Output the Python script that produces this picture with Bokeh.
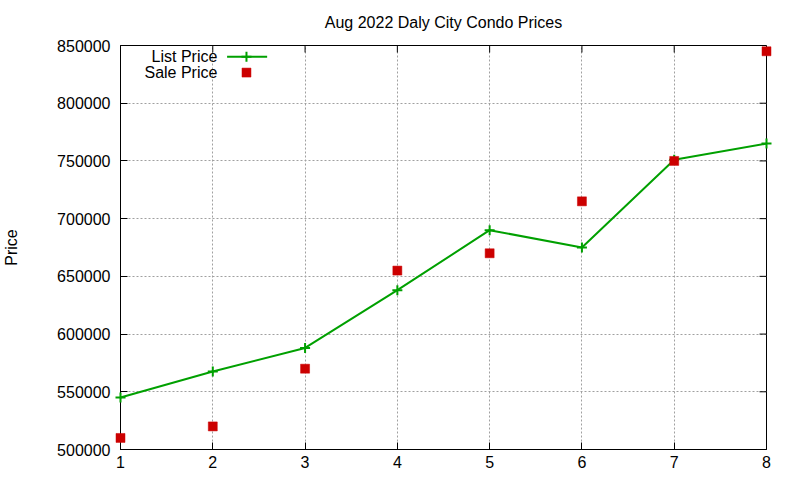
import math
from bokeh.plotting import figure
from bokeh.models import Range1d, FixedTicker, Label, BasicTickFormatter
from bokeh.embed import file_html
from bokeh.resources import INLINE

# Data
months = [1, 2, 3, 4, 5, 6, 7, 8]
list_price = [545000, 567500, 588000, 638000, 690000, 675000, 751000, 765000]
sale_price = [510000, 520000, 570000, 655000, 670000, 715000, 750000, 845000]
x_ticks = [1, 2, 3, 4, 5, 6, 7, 8]
y_ticks = [500000, 550000, 600000, 650000, 700000, 750000, 800000, 850000]
title_text = "Aug 2022 Daly City Condo Prices"
y_label = "Price"
series_names = ["List Price", "Sale Price"]

FONT = "Liberation Sans"
GREEN = "#00a000"
RED = "#cc0000"

p = figure(width=800, height=480, output_backend="svg", toolbar_location=None,
           x_range=Range1d(x_ticks[0], x_ticks[-1]),
           y_range=Range1d(y_ticks[0], y_ticks[-1]),
           min_border_left=117, min_border_right=34, min_border_top=45,
           min_border_bottom=31)

p.title.text = title_text
p.title.text_font = FONT
p.title.text_font_size = "16px"
p.title.text_font_style = "normal"
p.title.text_color = "black"
p.title.align = "center"
p.title.vertical_align = "top"
p.title.standoff = 26

p.outline_line_color = "black"
p.outline_line_width = 1
p.background_fill_color = "white"
p.border_fill_color = "white"

for ax in (p.xaxis[0], p.yaxis[0]):
    ax.major_label_text_font = FONT
    ax.major_label_text_font_size = "16px"
    ax.major_label_text_color = "black"
    ax.major_tick_in = 7
    ax.major_tick_out = 0
    ax.minor_tick_line_color = None
    ax.axis_line_color = "black"
    ax.major_tick_line_color = "black"

p.xaxis[0].ticker = FixedTicker(ticks=x_ticks)
p.yaxis[0].ticker = FixedTicker(ticks=y_ticks)
p.yaxis[0].formatter = BasicTickFormatter(use_scientific=False)
p.xaxis[0].major_label_standoff = 6
p.yaxis[0].major_label_standoff = 10
p.yaxis[0].axis_label = y_label
p.yaxis[0].axis_label_text_font = FONT
p.yaxis[0].axis_label_text_font_size = "16px"
p.yaxis[0].axis_label_text_font_style = "normal"
p.yaxis[0].axis_label_text_color = "black"
p.yaxis[0].axis_label_standoff = 34

# Mirror ticks on the right and top borders (inward, like gnuplot)
p.ray(x=[x_ticks[-1]] * len(y_ticks), y=y_ticks, length=7, length_units="screen",
      angle=math.pi, line_color="black", line_width=1)
p.ray(x=x_ticks, y=[y_ticks[-1]] * len(x_ticks), length=7, length_units="screen",
      angle=-math.pi / 2, line_color="black", line_width=1)

p.xgrid.ticker = FixedTicker(ticks=x_ticks)
p.ygrid.ticker = FixedTicker(ticks=y_ticks)
for g in (p.xgrid[0], p.ygrid[0]):
    g.grid_line_color = "#a0a0a0"
    g.grid_line_dash = "2 2"
    g.grid_line_width = 1

# Data glyphs
p.line(months, list_price, line_color=GREEN, line_width=2, level="overlay")
p.scatter(months, list_price, marker="cross", size=10, line_color=GREEN,
          line_width=2, level="overlay")
p.scatter(months, sale_price, marker="square", size=9, fill_color=RED,
          line_color=RED, line_width=0.5, level="overlay")

# Gnuplot-style key (text right-aligned, sample to the right), in frame fractions
p.extra_x_ranges = {"key": Range1d(0, 1)}
p.extra_y_ranges = {"key": Range1d(0, 1)}
key_rows = [0.972, 0.933]
p.line([0.165, 0.227], [key_rows[0], key_rows[0]], line_color=GREEN, line_width=2,
       x_range_name="key", y_range_name="key", level="overlay")
p.scatter([0.195], [key_rows[0]], marker="cross", size=10, line_color=GREEN,
          line_width=2, x_range_name="key", y_range_name="key", level="overlay")
p.scatter([0.195], [key_rows[1]], marker="square", size=9, fill_color=RED,
          line_color=RED, line_width=0.5, x_range_name="key", y_range_name="key",
          level="overlay")
for name, yy in zip(series_names, key_rows):
    p.add_layout(Label(x=0.150, y=yy, x_range_name="key", y_range_name="key",
                       text=name, text_align="right", text_baseline="middle",
                       text_font=FONT, text_font_size="16px", text_color="black"))

open("out.html", "w").write(file_html(p, INLINE))
